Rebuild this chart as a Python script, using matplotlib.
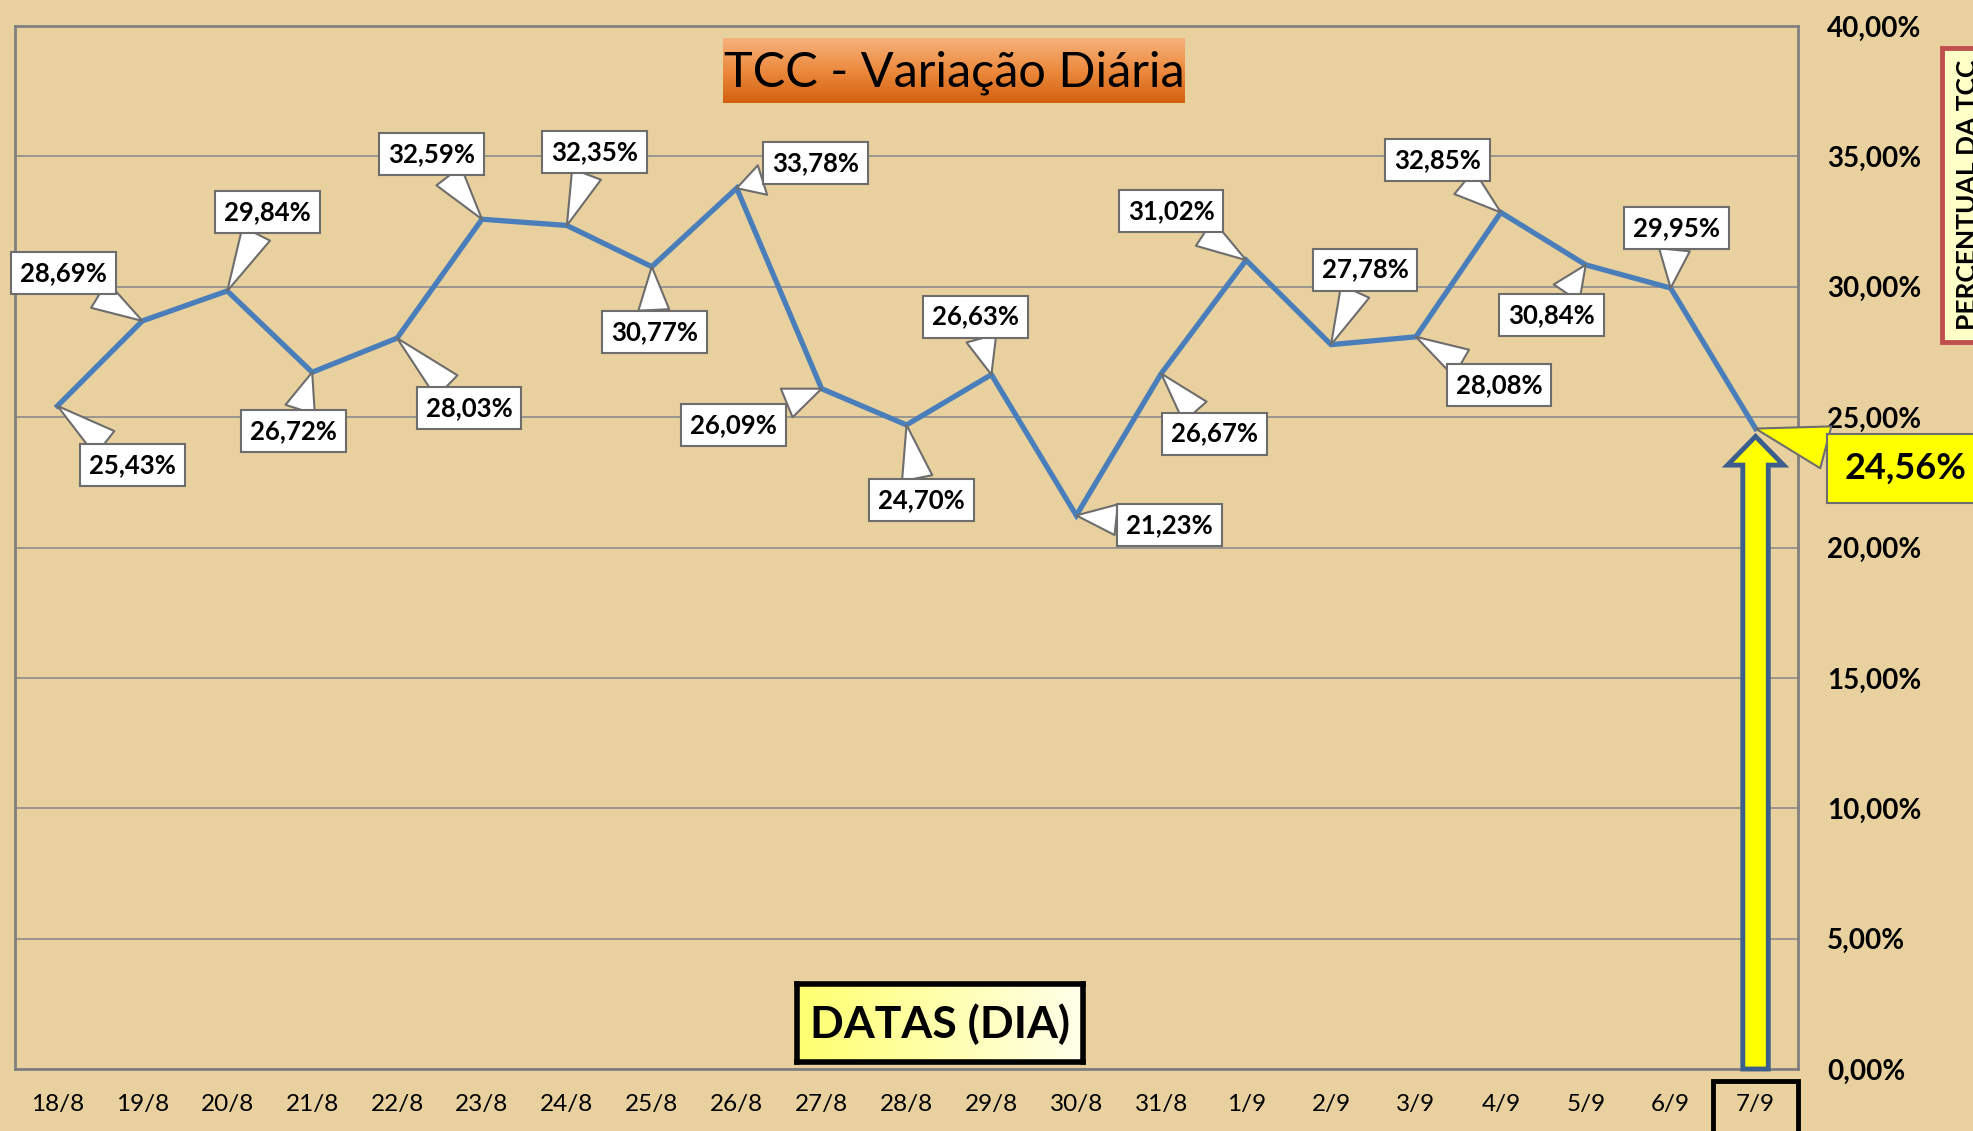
import matplotlib
matplotlib.use("Agg")
import matplotlib.pyplot as plt
from matplotlib.patches import Rectangle, FancyArrow
from matplotlib.colors import LinearSegmentedColormap
import numpy as np

plt.rcParams['font.family'] = ['Lato', 'DejaVu Sans']

datas = ['18/8', '19/8', '20/8', '21/8', '22/8', '23/8', '24/8', '25/8', '26/8', '27/8',
         '28/8', '29/8', '30/8', '31/8', '1/9', '2/9', '3/9', '4/9', '5/9', '6/9', '7/9']
tcc = [25.43, 28.69, 29.84, 26.72, 28.03, 32.59, 32.35, 30.77, 33.78, 26.09,
       24.70, 26.63, 21.23, 26.67, 31.02, 27.78, 28.08, 32.85, 30.84, 29.95, 24.56]
y_ticks = [0, 5, 10, 15, 20, 25, 30, 35, 40]

# callout offsets in pixels (dx, dy) for each label
offsets = [(75, -59), (-79, 48), (40, 79), (-19, -59), (72, -70), (-50, 65), (28, 73),
           (3, -65), (79, 25), (-88, -36), (15, -75), (-16, 58), (93, -10), (53, -60),
           (-75, 49), (34, 75), (83, -48), (-63, 52), (-34, -50), (6, 60), (150, -40)]

bg = '#E8D19E'
W, H = 1973, 1131
fig = plt.figure(figsize=(W / 100, H / 100), dpi=100)
fig.patch.set_facecolor(bg)

ax = fig.add_axes([15 / W, 1 - 1069 / H, (1798 - 15) / W, (1069 - 26) / H])
ax.set_facecolor(bg)
x = np.arange(len(datas))

for y in y_ticks:
    ax.axhline(y, color='#8C8C8C', lw=1.2, zorder=1)

ax.plot(x, tcc, color='#4A7EBB', lw=3.8, zorder=3, solid_joinstyle='miter')

ax.set_xlim(-0.5, len(datas) - 0.5)
ax.set_ylim(0, 40)
ax.set_xticks(x)
ax.set_xticklabels(datas, fontsize=17.5)
ax.set_yticks(y_ticks)
ax.set_yticklabels([f"{v:.2f}".replace('.', ',') + '%' for v in y_ticks],
                   fontsize=20, fontweight='bold')
ax.yaxis.tick_right()
ax.tick_params(axis='y', length=0, pad=21)
ax.tick_params(axis='x', length=0, pad=18)
for s in ax.spines.values():
    s.set_color('#808080')
    s.set_linewidth(2)

# callouts
for i, v in enumerate(tcc):
    txt = f"{v:.2f}".replace('.', ',') + '%'
    last = i == len(tcc) - 1
    ax.annotate(txt, xy=(i, v), xytext=offsets[i], textcoords='offset pixels',
                ha='center', va='center',
                fontsize=26 if last else 18.5, fontweight='bold', zorder=6,
                bbox=dict(boxstyle='square,pad=0.35' if not last else 'square,pad=0.5',
                          fc='#FFFF00' if last else 'white', ec='#6D6D6D', lw=1.5),
                arrowprops=dict(arrowstyle='wedge,tail_width=1.2', fc='#FFFF00' if last else 'white',
                                ec='#6D6D6D', lw=1.5, shrinkA=0, shrinkB=0))

# yellow arrow up to the last point
ax.add_patch(FancyArrow(20, 0, 0, tcc[-1] - 0.3, width=0.3, head_width=0.66, head_length=1.1,
                        length_includes_head=True, fc='#FFFF00', ec='#3B5E8C', lw=3.5,
                        zorder=5, clip_on=False))

# title box with orange gradient
tax = fig.add_axes([723 / W, 1 - 103 / H, (1185 - 723) / W, (103 - 38) / H])
grad = np.linspace(0, 1, 100).reshape(-1, 1)
cmap_o = LinearSegmentedColormap.from_list('o', ['#F6B27C', '#EC8A3E', '#D3600F'])
tax.imshow(grad, aspect='auto', cmap=cmap_o, extent=[0, 1, 0, 1])
tax.set_axis_off()
tax.text(0.5, 0.47, 'TCC - Variação Diária', ha='center', va='center', fontsize=35,
         color='black', transform=tax.transAxes)

# x axis title box
dax = fig.add_axes([797 / W, 1 - 1062 / H, (1083 - 797) / W, (1062 - 984) / H])
cmap_y = LinearSegmentedColormap.from_list('y', ['#FFFF70', '#FFFFEA'])
dax.imshow(grad.T, aspect='auto', cmap=cmap_y, extent=[0, 1, 0, 1])
dax.set_xticks([])
dax.set_yticks([])
for s in dax.spines.values():
    s.set_color('black')
    s.set_linewidth(4)
dax.text(0.5, 0.48, 'DATAS (DIA)', ha='center', va='center', fontsize=32,
         fontweight='bold', transform=dax.transAxes)

# y axis title box, cut off at the right edge like the original
fig.patches.append(Rectangle((1942 / W, 1 - 342 / H), 60 / W, (342 - 48) / H,
                             transform=fig.transFigure, fc='#FFFFC8', ec='#C0504D', lw=3.5))
fig.text(1968 / W, 1 - 195 / H, 'PERCENTUAL DA TCC', rotation=90, ha='center', va='center',
         fontsize=19, fontweight='bold')

# box round the last date
fig.patches.append(Rectangle((1713 / W, -0.01), (1798 - 1713) / W, 1 - 1081 / H + 0.01,
                             transform=fig.transFigure, fc='none', ec='black', lw=3.5))

fig.savefig('out.png', dpi=100, facecolor=bg)
